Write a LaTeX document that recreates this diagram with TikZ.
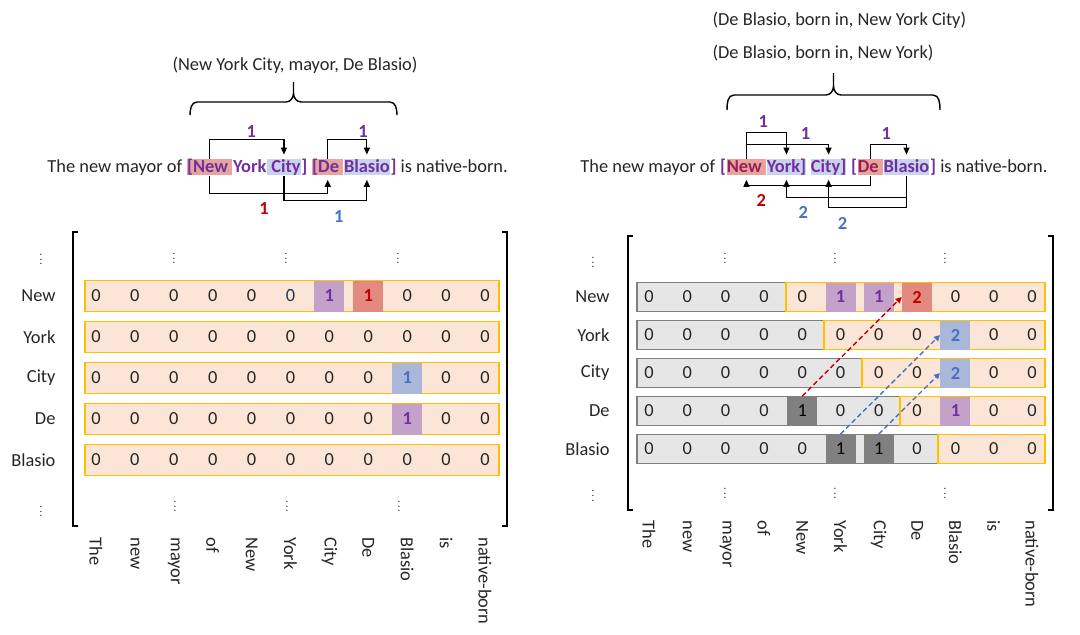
\documentclass[tikz,border=0pt]{standalone}
\usepackage{fontspec}
\setmainfont{Carlito}[Scale=0.92]
\usetikzlibrary{positioning,arrows.meta}

\definecolor{tink}{HTML}{262626}
\definecolor{tpurple}{HTML}{7030A0}
\definecolor{tmaroon}{HTML}{9A1F5C}
\definecolor{tred}{HTML}{C00000}
\definecolor{tblue}{HTML}{4472C4}
\definecolor{tnavy}{HTML}{1F3864}
\definecolor{hlpink}{HTML}{E8A39C}
\definecolor{hlblue}{HTML}{CAD3EE}
\definecolor{rowfill}{HTML}{FBE5D6}
\definecolor{rowline}{HTML}{FFC000}
\definecolor{grayfill}{HTML}{E7E6E6}
\definecolor{grayline}{HTML}{7F7F7F}
\definecolor{cpurple}{HTML}{C3A1C9}
\definecolor{cred}{HTML}{E38A80}
\definecolor{cblue}{HTML}{AAB7D9}
\definecolor{cdark}{HTML}{808080}

\tikzset{
  word/.style={inner xsep=0pt, inner ysep=0pt, text height=6.5pt, text depth=1.7pt},
  ent/.style={word, font=\bfseries, text=tpurple},
  link/.style={-{Triangle[length=3.5pt,width=3pt]}, line width=0.6pt},
  num/.style={font=\bfseries, inner sep=1pt},
  zero/.style={inner sep=0pt},
  hcell/.style 2 args={minimum width=15pt, inner sep=0pt, fill=#1, text=#2, font=\bfseries},
  rowbox/.style={fill=rowfill, draw=rowline, line width=0.9pt},
  graybox/.style={fill=grayfill, draw=grayline, line width=0.9pt},
  rowlab/.style={anchor=east},
  collab/.style={rotate=-90, anchor=west},
  vdot/.style={scale=0.6, inner sep=0pt},
  hint/.style={dash pattern=on 2.5pt off 1.5pt, line width=0.7pt, -{Triangle[length=3pt,width=3pt]}}
}

\begin{document}
\begin{tikzpicture}[x=0.5pt, y=-0.5pt, text=tink]
\useasboundingbox (0,0) rectangle (1080,634);

% left: triple and brace
\node (ltrip) at (295,65) {(New York City, mayor, De Blasio)};
\draw[line width=0.7pt] (190,115) to[out=90,in=180] (197,102) -- (286,102) to[out=0,in=-90] (293.5,93) -- (293.5,82)
  (293.5,93) to[out=-90,in=180] (301,102) -- (390,102) to[out=0,in=90] (397,115);

% left sentence
\node[word, anchor=base west] (lpre) at (47,172) {The new mayor of};
\node[ent, fill=hlpink, base right=2pt of lpre] (lNew) {[New\ \null};
\node[ent, base right=0pt of lNew] (lYork) {York};
\node[ent, fill=hlblue, base right=0pt of lYork] (lCity) {\ City};
\node[ent, base right=0pt of lCity] (lcb) {]};
\node[ent, fill=hlpink, base right=2pt of lcb] (lDe) {[De\ \null};
\node[ent, fill=hlblue, base right=0pt of lDe] (lBlasio) {Blasio};
\node[word, base right=0pt of lBlasio] (lpost) {\textcolor{tpurple}{\bfseries]} is native-born.};

\draw[link] (lNew.north) -- ++(0,-19) -| node[num, above, pos=0.28, text=tpurple] (la1) {1} ([yshift=2pt]lCity.north);
\draw[link] (lDe.north) -- ++(0,-19) -| node[num, above, pos=0.45, text=tpurple] (la2) {1} ([yshift=2pt]lBlasio.north);
\draw[link] (lNew.south) -- ++(0,18) -| node[num, below=3pt, pos=0.23, text=tred] (la3) {1} ([yshift=-2pt]lDe.south);
\draw[link] (lCity.south) -- ++(0,25) -| node[num, below=3.5pt, pos=0.33, text=tblue] (la4) {1} ([yshift=-2pt]lBlasio.south);

% left matrix
\draw[line width=0.8pt] (78,232) -| (73,526) -- (78,526);
\draw[line width=0.8pt] (502,232) -| (507,526) -- (502,526);
\foreach \w [count=\i from 0] in {New,York,City,De,Blasio}{
  \pgfmathsetmacro\yy{296+41*\i}
  \draw[rowbox] (85,\yy-15.5) rectangle (499,\yy+15.5);
  \node[rowlab] (lrow\i) at (62,\yy) {\w};
  \foreach \c in {0,...,10}
    \node[zero] (lz\i-\c) at (96+38.9*\c,\yy) {0};
}
\node[zero, fill=rowfill, text=tnavy] (lz0-5b) at (lz0-5) {0};
\foreach \i/\c/\f/\t in {0/6/cpurple/tpurple, 0/7/cred/tred, 2/8/cblue/tblue, 3/8/cpurple/tpurple}
  \node[hcell={\f}{\t}, minimum height=15.5pt] (lc\i-\c) at (lz\i-\c) {1};
\foreach \w [count=\c from 0] in {The,new,mayor,of,New,York,City,De,Blasio,is,native-born}
  \node[collab] (lcol\c) at (96+38.9*\c,531) {\w};

\node[vdot] (ld1) at (41,256) {$\vdots$};
\node[vdot] (ld2) at (41,508) {$\vdots$};
\foreach \x [count=\k] in {174,286,398}{
  \node[vdot] (ldt\k) at (\x,255) {$\vdots$};
  \node[vdot] (ldb\k) at (\x+1,503) {$\vdots$};
}

% right: triples and brace
\node[anchor=west] (rtrip1) at (706,20) {(De Blasio, born in, New York City)};
\node[anchor=west] (rtrip2) at (706,53) {(De Blasio, born in, New York)};
\draw[line width=0.7pt] (727,110) to[out=90,in=180] (734,95) -- (826,95) to[out=0,in=-90] (833.5,86) -- (833.5,73)
  (833.5,86) to[out=-90,in=180] (841,95) -- (933,95) to[out=0,in=90] (940,110);

% right sentence
\node[word, anchor=base west] (rpre) at (580,172) {The new mayor of};
\node[ent, base right=2pt of rpre] (rob1) {[};
\node[ent, fill=hlpink, text=tmaroon, base right=0pt of rob1] (rNew) {New\ \null};
\node[ent, fill=hlblue, base right=0pt of rNew] (rYork) {York]};
\node[ent, fill=hlblue, base right=2pt of rYork] (rCity) {City]};
\node[ent, base right=2pt of rCity] (rob2) {[};
\node[ent, fill=hlpink, text=tmaroon, base right=0pt of rob2] (rDe) {De\ \null};
\node[ent, fill=hlblue, base right=0pt of rDe] (rBlasio) {Blasio};
\node[word, base right=0pt of rBlasio] (rpost) {\textcolor{tpurple}{\bfseries]} is native-born.};

\draw[link] (rNew.north) -- ++(0,-26) -| node[num, above=1.5pt, pos=0.21, text=tpurple] (ra1) {1} ([yshift=2pt]rYork.north);
\draw[link] (rNew.north) -- ++(0,-14) -| node[num, above=1.5pt, pos=0.36, text=tpurple] (ra2) {1} ([yshift=2pt]rCity.north);
\draw[link] (rDe.north) -- ++(0,-14) -| node[num, above=1.5pt, pos=0.22, text=tpurple] (ra3) {1} ([yshift=2pt]rBlasio.north);
\draw[link] (rDe.south) -- ++(0,10) -| node[num, below=3pt, pos=0.44, text=tred] (ra4) {2} ([yshift=-2pt]rNew.south);
\draw[link] (rBlasio.south) -- ++(0,22) -| node[num, below=3pt, pos=0.43, text=tblue] (ra5) {2} ([yshift=-2pt]rYork.south);
\draw[link] (rBlasio.south) -- ++(0,32) -| node[num, below=3.5pt, pos=0.41, text=tblue] (ra6) {2} ([yshift=-2pt]rCity.south);

% right matrix
\draw[line width=0.8pt] (633,236) -| (628,510) -- (633,510);
\draw[line width=0.8pt] (1048,236) -| (1053,510) -- (1048,510);
\foreach \w [count=\i from 0] in {New,York,City,De,Blasio}{
  \pgfmathsetmacro\yy{297+38*\i}
  \pgfmathsetmacro\xg{786+38*\i}
  \draw[graybox] (637,\yy-14.5) rectangle (\xg,\yy+14.5);
  \draw[rowbox] (\xg,\yy-14.5) rectangle (1045,\yy+14.5);
  \node[rowlab] (rrow\i) at (616,\yy) {\w};
  \foreach \c in {0,...,10}
    \node[zero] (rz\i-\c) at (649+38.3*\c,\yy) {0};
}
\foreach \i/\c/\f/\t/\v in {0/5/cpurple/tpurple/1, 0/6/cpurple/tpurple/1, 0/7/cred/tred/2, 1/8/cblue/tblue/2, 2/8/cblue/tblue/2, 3/8/cpurple/tpurple/1}
  \node[hcell={\f}{\t}, minimum height=14.5pt] (rc\i-\c) at (rz\i-\c) {\v};
\foreach \i/\c in {3/4, 4/5, 4/6}
  \node[hcell={cdark}{black}, font=\mdseries, minimum height=14.5pt] (rc\i-\c) at (rz\i-\c) {1};
\draw[hint, tred] (rc3-4.north) -- (rc0-7.west);
\draw[hint, tblue] (rc4-5.north) -- (rc1-8.west);
\draw[hint, tblue] (rc4-6.north) -- (rc2-8.west);
\foreach \w [count=\c from 0] in {The,new,mayor,of,New,York,City,De,Blasio,is,native-born}
  \node[collab] (rcol\c) at (649+38.3*\c,514) {\w};

\node[vdot] (rd1) at (593,259) {$\vdots$};
\node[vdot] (rd2) at (593,492) {$\vdots$};
\foreach \x [count=\k] in {725,835,945}{
  \node[vdot] (rdt\k) at (\x,255) {$\vdots$};
  \node[vdot] (rdb\k) at (\x,490) {$\vdots$};
}
\end{tikzpicture}
\end{document}
